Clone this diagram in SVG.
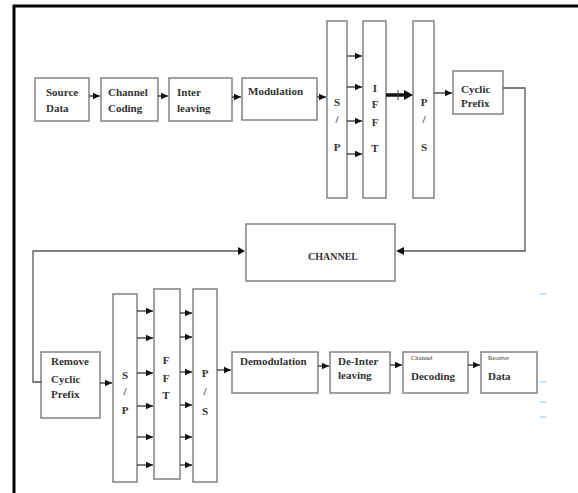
<svg xmlns="http://www.w3.org/2000/svg" width="578" height="493" viewBox="0 0 578 493">
<defs>
<marker id="ah" markerWidth="8" markerHeight="8" refX="7" refY="4" orient="auto" markerUnits="userSpaceOnUse">
<path d="M0,0.8 L7,4 L0,7.2 Z" fill="#111"/>
</marker>
</defs>
<style>
.b{fill:#fff;stroke:#8a8a8a;stroke-width:1.6}
.c{fill:none;stroke:#555;stroke-width:1.3}
.a{fill:none;stroke:#333;stroke-width:1.3;marker-end:url(#ah)}
.t{font-family:"Liberation Serif","Times New Roman",serif;font-size:11px;font-weight:bold;fill:#333}
.m{text-anchor:middle}
.s{font-size:6.5px;font-weight:normal}
.d{stroke:#b8d4ee;stroke-width:1.3}
</style>
<rect width="578" height="493" fill="#fff"/>
<path d="M14,493 V6 H578" fill="none" stroke="#000" stroke-width="3"/>
<g id="source"><rect class="b" x="35" y="78" width="54" height="43"/><text class="t" x="46" y="96">Source</text><text class="t" x="46" y="112">Data</text></g>
<g id="chcoding"><rect class="b" x="101" y="78" width="57" height="43"/><text class="t" x="108" y="96">Channel</text><text class="t" x="108" y="112">Coding</text></g>
<g id="interleave"><rect class="b" x="169" y="78" width="63" height="43"/><text class="t" x="177" y="96">Inter</text><text class="t" x="177" y="112">leaving</text></g>
<g id="modulation"><rect class="b" x="242" y="78" width="75" height="42"/><text class="t" x="248" y="95">Modulation</text></g>
<g id="sp1"><rect class="b" x="327" y="21" width="20" height="177"/><text class="t m" x="337" y="106">S</text><text class="t m" x="337" y="123">/</text><text class="t m" x="337" y="151">P</text></g>
<g id="ifft"><rect class="b" x="363" y="21" width="23" height="177"/><text class="t m" x="375" y="92">I</text><text class="t m" x="375" y="108">F</text><text class="t m" x="375" y="126">F</text><text class="t m" x="375" y="152">T</text></g>
<g id="ps1"><rect class="b" x="413" y="21" width="21" height="177"/><text class="t m" x="424" y="106">P</text><text class="t m" x="424" y="123">/</text><text class="t m" x="424" y="151">S</text></g>
<g id="cyclic"><rect class="b" x="453" y="71" width="50" height="43"/><text class="t" x="461" y="93">Cyclic</text><text class="t" x="461" y="107">Prefix</text></g>
<g id="channel"><rect class="b" x="246" y="224" width="149" height="57"/><text class="t m" x="333" y="260" style="font-size:10px">CHANNEL</text></g>
<g id="remove"><rect class="b" x="41" y="352" width="59" height="66"/><text class="t" x="51" y="365">Remove</text><text class="t" x="51" y="383">Cyclic</text><text class="t" x="51" y="398">Prefix</text></g>
<g id="sp2"><rect class="b" x="113" y="294" width="24" height="188"/><text class="t m" x="125" y="379">S</text><text class="t m" x="125" y="395">/</text><text class="t m" x="125" y="414">P</text></g>
<g id="fft"><rect class="b" x="154" y="289" width="26" height="190"/><text class="t m" x="166" y="364">F</text><text class="t m" x="166" y="382">F</text><text class="t m" x="166" y="399">T</text></g>
<g id="ps2"><rect class="b" x="193" y="289" width="24" height="193"/><text class="t m" x="205" y="377">P</text><text class="t m" x="205" y="395">/</text><text class="t m" x="205" y="415">S</text></g>
<g id="demod"><rect class="b" x="232" y="352" width="86" height="41"/><text class="t" x="240" y="365">Demodulation</text></g>
<g id="deinter"><rect class="b" x="330" y="352" width="60" height="41"/><text class="t" x="338" y="365">De-Inter</text><text class="t" x="338" y="379">leaving</text></g>
<g id="chdecoding"><rect class="b" x="403" y="352" width="65" height="41"/><text class="t s" x="411" y="360">Channel</text><text class="t" x="411" y="380">Decoding</text></g>
<g id="receive"><rect class="b" x="481" y="352" width="56" height="41"/><text class="t s" x="488" y="360">Receive</text><text class="t" x="488" y="380">Data</text></g>
<g id="connectors">
<path class="a" d="M89,96 H100"/>
<path class="a" d="M158,96 H168"/>
<path class="a" d="M232,97 H241"/>
<path class="a" d="M317,97 H326"/>
<path class="a" d="M347,56 H362"/>
<path class="a" d="M347,87 H362"/>
<path class="a" d="M347,121 H362"/>
<path class="a" d="M347,154 H362"/>
<path d="M386,95 H406" stroke="#111" stroke-width="3.5" fill="none"/>
<path d="M404,90 L413,95 L404,100 Z" fill="#111"/>
<path d="M398,90 V100" stroke="#444" stroke-width="1"/>
<path class="a" d="M434,93 H452"/>
<path class="c" d="M503,88 H525 V251 H403"/>
<path d="M404,247 L396,251 L404,255 Z" fill="#111"/>
<path class="c" d="M42,382 H33 V251 H238"/>
<path d="M238,247 L245,251 L238,255 Z" fill="#111"/>
<path class="a" d="M100,383 H112"/>
<path class="a" d="M137,311 H153"/>
<path class="a" d="M137,338 H153"/>
<path class="a" d="M137,373 H153"/>
<path class="a" d="M137,406 H153"/>
<path class="a" d="M137,437 H153"/>
<path class="a" d="M137,465 H153"/>
<path class="a" d="M180,313 H192"/>
<path class="a" d="M180,337 H192"/>
<path class="a" d="M180,372 H192"/>
<path class="a" d="M180,405 H192"/>
<path class="a" d="M180,437 H192"/>
<path class="a" d="M180,465 H192"/>
<path class="a" d="M217,370 H231"/>
<path class="a" d="M318,366 H329"/>
<path class="a" d="M390,365 H402"/>
<path class="a" d="M468,365 H480"/>
</g>
<path class="d" d="M540,294 H546 M540,382 H546 M540,402 H546 M540,417 H546"/>
</svg>
